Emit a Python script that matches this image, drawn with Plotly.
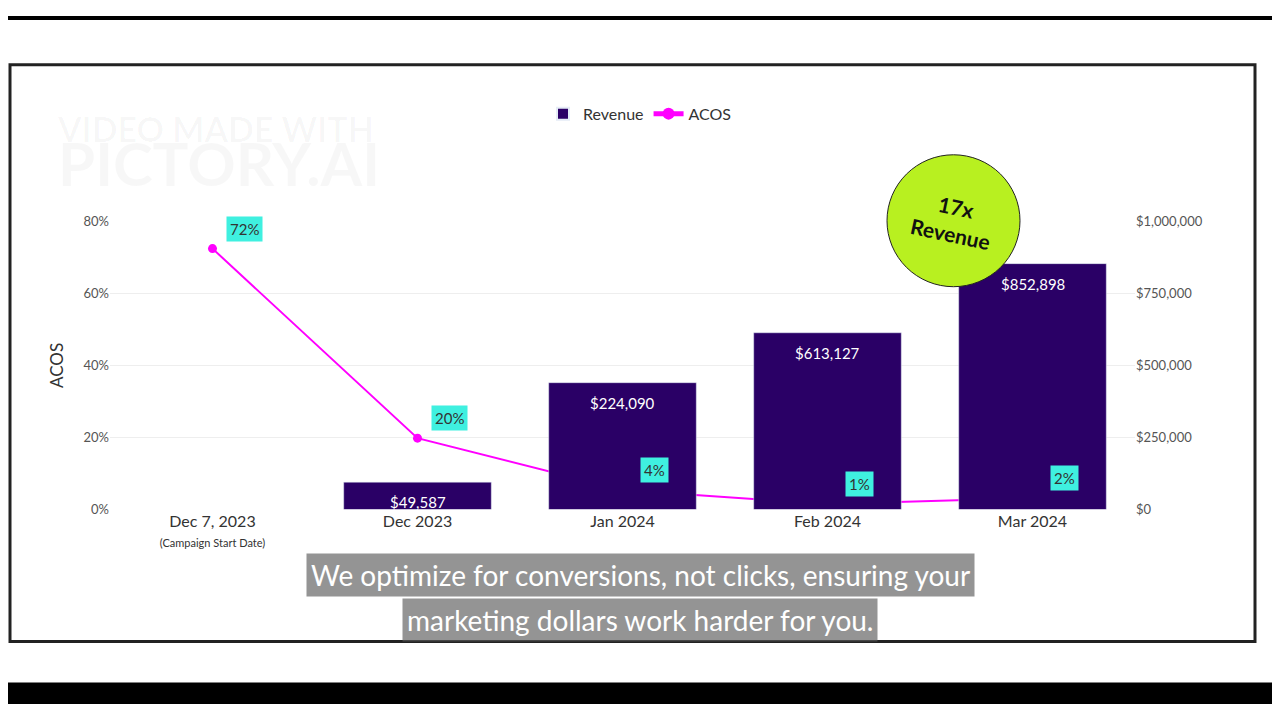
import plotly.graph_objects as go

months = ["Dec 7, 2023<br><span style='font-size:11px'>(Campaign Start Date)</span>",
          "Dec 2023", "Jan 2024", "Feb 2024", "Mar 2024"]
# bar heights as drawn in the picture; labels as printed
revenue = [None, 95000, 440000, 613127, 852898]
revenue_labels = ["", "$49,587", "$224,090", "$613,127", "$852,898"]
acos = [72.4, 19.8, 5.4, 1.5, 3.2]
acos_labels = ["72%", "20%", "4%", "1%", "2%"]

W, H = 1264, 704
def px(x): return x / W
def py(y): return 1 - y / H

fig = go.Figure()
fig.add_trace(go.Bar(x=months, y=revenue, name="Revenue", yaxis="y2",
                     marker_color="#2a0066", width=0.72))
fig.add_trace(go.Scatter(x=months, y=acos, name="ACOS", mode="lines+markers",
                         line=dict(color="#ff00ff", width=2), marker=dict(size=9, color="#ff00ff")))

for m, v, lab in zip(months, revenue, revenue_labels):
    if v:
        fig.add_annotation(x=m, y=v, yref="y2", text=lab, showarrow=False, yshift=-20,
                           font=dict(size=15, color="white"))
for m, v, lab in zip(months, acos, acos_labels):
    fig.add_annotation(x=m, y=v, text=lab, showarrow=False, yshift=20, xshift=32,
                       bgcolor="#3ff0e0", font=dict(size=15, color="#333"), borderpad=3)

font = dict(family="Lato, sans-serif", size=13, color="#555")
fig.update_layout(
    width=W, height=H, margin=dict(l=0, r=0, t=0, b=0),
    paper_bgcolor="white", plot_bgcolor="white", font=font,
    bargap=0.28, showlegend=True,
    legend=dict(orientation="h", x=0.5, xanchor="center", y=py(100), yanchor="middle",
                font=dict(size=16, color="#333"), itemsizing="constant"),
    xaxis=dict(domain=[px(102), px(1127)], showgrid=False, showline=False, ticks="",
               tickfont=dict(size=16, color="#333")),
    yaxis=dict(domain=[py(505), py(210)], range=[0, 80], tickvals=[0, 20, 40, 60, 80],
               ticktext=["0%", "20%", "40%", "60%", "80%"], gridcolor="#eeeeee", zeroline=False,
               title=dict(text="ACOS", font=dict(size=17, color="#333"))),
    yaxis2=dict(overlaying="y", side="right", range=[0, 1000000],
                tickvals=[0, 250000, 500000, 750000, 1000000],
                ticktext=["$0", "$250,000", "$500,000", "$750,000", "$1,000,000"],
                showgrid=False, zeroline=False),
    shapes=[
        dict(type="rect", xref="paper", yref="paper", x0=0, x1=1, y0=py(4), y1=1,
             fillcolor="black", line_width=0, layer="above"),
        dict(type="rect", xref="paper", yref="paper", x0=0, x1=1, y0=0, y1=py(682),
             fillcolor="black", line_width=0, layer="above"),
        dict(type="rect", xref="paper", yref="paper", x0=px(2), x1=px(1247), y0=py(640), y1=py(50),
             line=dict(color="#222", width=3), fillcolor="rgba(0,0,0,0)"),
        dict(type="circle", xref="paper", yref="paper", x0=px(879), x1=px(1012), y0=py(277), y1=py(142),
             fillcolor="#b8f020", line=dict(color="#222", width=1), layer="above"),
    ],
)
fig.add_annotation(xref="paper", yref="paper", x=px(945), y=py(209), text="<b>17x<br>Revenue</b>",
                   xanchor="center", yanchor="middle", textangle=12,
                   showarrow=False, font=dict(size=21, color="#111"))
fig.add_annotation(xref="paper", yref="paper", x=px(47), y=py(92), xanchor="left",
                   text="<b>VIDEO MADE WITH<br><span style='font-size:60px'>PICTORY.AI</span></b>",
                   showarrow=False, align="left", font=dict(size=34, color="rgba(0,0,0,0.03)"))
fig.add_annotation(xref="paper", yref="paper", x=0.5, y=py(595), text="We optimize for conversions, not clicks, ensuring your",
                   xanchor="center", showarrow=False, bgcolor="rgba(90,90,90,0.65)", font=dict(size=28, color="white"), borderpad=4)
fig.add_annotation(xref="paper", yref="paper", x=0.5, y=py(641), text="marketing dollars work harder for you.",
                   xanchor="center", showarrow=False, bgcolor="rgba(90,90,90,0.65)", font=dict(size=28, color="white"), borderpad=4)

fig.write_html("out.html")
